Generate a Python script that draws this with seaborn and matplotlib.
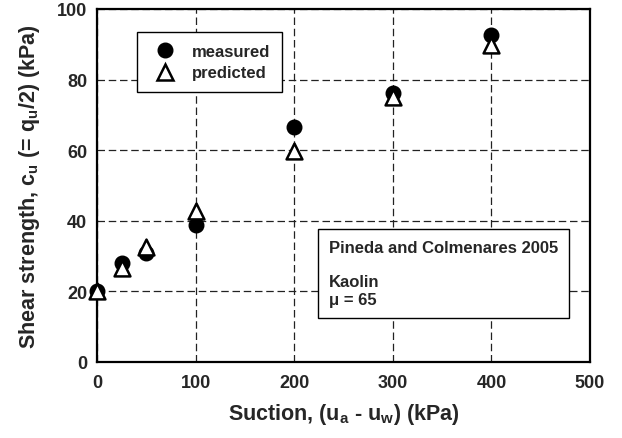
import matplotlib
matplotlib.use("Agg")
import matplotlib.pyplot as plt
import seaborn as sns
import pandas as pd
from matplotlib.ticker import MultipleLocator
from matplotlib.lines import Line2D

suction = [0, 25, 50, 100, 200, 300, 400]
measured = [20.0, 28.0, 30.9, 38.7, 66.6, 76.2, 92.6]
predicted = [20.2, 26.6, 32.5, 42.7, 59.8, 75.2, 89.7]

x_ticks = [0, 100, 200, 300, 400, 500]
y_ticks = [0, 20, 40, 60, 80, 100]

sns.set_style("white")
plt.rcParams['font.family'] = ['Liberation Sans', 'DejaVu Sans']
plt.rcParams['font.weight'] = 'bold'
plt.rcParams['mathtext.fontset'] = 'custom'
plt.rcParams['mathtext.rm'] = 'Liberation Sans:bold'
plt.rcParams['mathtext.bf'] = 'Liberation Sans:bold'
plt.rcParams['mathtext.it'] = 'Liberation Sans:bold'
plt.rcParams['mathtext.default'] = 'bf'

df_m = pd.DataFrame({"suction": suction, "cu": measured})
df_p = pd.DataFrame({"suction": suction, "cu": predicted})

fig = plt.figure(figsize=(6.22, 4.39), dpi=100)
ax = fig.add_axes([97/622, 1-363/439, (590-97)/622, (363-10)/439])

sns.scatterplot(data=df_m, x="suction", y="cu", ax=ax, marker="o", s=110,
                color="black", edgecolor="black", linewidth=1, zorder=3, clip_on=False)
sns.scatterplot(data=df_p, x="suction", y="cu", ax=ax, marker="^", s=130,
                facecolor="white", edgecolor="black", linewidth=1.8, zorder=4, clip_on=False)

ax.set_xlim(0, 500)
ax.set_ylim(0, 100)
ax.set_xticks(x_ticks)
ax.set_yticks(y_ticks)
ax.xaxis.set_minor_locator(MultipleLocator(50))
ax.yaxis.set_minor_locator(MultipleLocator(10))
ax.tick_params(which='both', direction='in', top=False, right=False,
               labelsize=13, width=1.3, color='black')
ax.tick_params(axis='x', which='major', length=6, pad=9)
ax.tick_params(axis='y', which='major', length=6, pad=7)
ax.tick_params(which='minor', length=5)
for lab in ax.get_xticklabels() + ax.get_yticklabels():
    lab.set_fontweight('bold')

ax.grid(True, which='major', linestyle=(0, (6, 3)), color='#222222', linewidth=0.9)
ax.set_axisbelow(True)
for sp in ax.spines.values():
    sp.set_linewidth(1.6)
    sp.set_color('black')

ax.set_xlabel(r"Suction, (u$_\mathbf{a}$ - u$_\mathbf{w}$) (kPa)", fontsize=15.5,
              fontweight='bold', labelpad=7)
ax.set_ylabel(r"Shear strength, c$_\mathbf{u}$ (= q$_\mathbf{u}$/2) (kPa)", fontsize=15.5,
              fontweight='bold', labelpad=11)

handles = [
    Line2D([], [], marker='o', linestyle='none', markersize=10.5, markerfacecolor='black',
           markeredgecolor='black'),
    Line2D([], [], marker='^', linestyle='none', markersize=11, markerfacecolor='white',
           markeredgecolor='black', markeredgewidth=1.8),
]
leg = ax.legend(handles, ["measured", "predicted"], loc='upper left',
                bbox_to_anchor=((137-97)/493, 1-(33-10)/353), fancybox=False,
                framealpha=1, edgecolor='black', prop={'weight': 'bold', 'size': 12},
                borderpad=0.7, labelspacing=0.4, handletextpad=0.6, borderaxespad=0)
leg.get_frame().set_linewidth(1)

ax.text((329-97)/493, 1-(229-10)/353 - 0.033,
        "Pineda and Colmenares 2005\n\nKaolin\n\u03bc = 65",
        transform=ax.transAxes, fontsize=12, fontweight='bold', va='top', ha='left',
        linespacing=1.2,
        bbox=dict(boxstyle='square,pad=0.65', facecolor='white', edgecolor='black', linewidth=1),
        zorder=5)

fig.savefig("out.png", dpi=100)
